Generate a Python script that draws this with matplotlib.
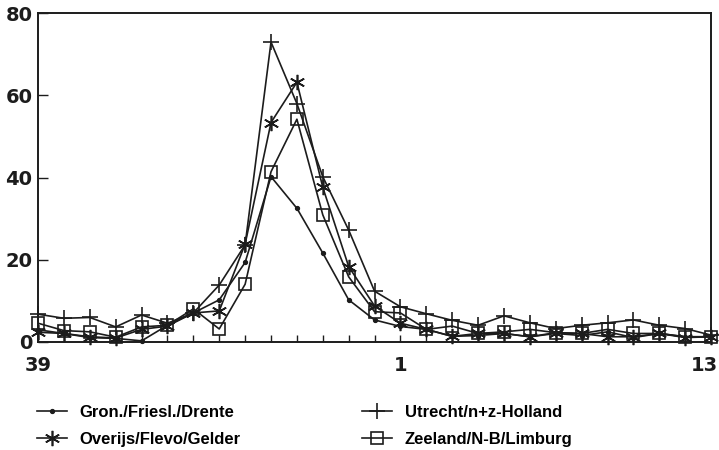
import matplotlib
matplotlib.use("Agg")
import matplotlib.pyplot as plt
import matplotlib.transforms as mtransforms
import numpy as np

weeks = [str(w) for w in list(range(39, 53)) + list(range(1, 14))]
shown_ticks = ["39", "1", "13"]

gron = [2.9, 2.0, 1.0, 0.8, 0.2, 4.0, 7.0, 10.2, 19.3, 40.2, 32.5, 21.6, 10.2, 5.3,
        3.7, 3.0, 1.3, 1.5, 2.0, 1.2, 2.0, 1.5, 2.4, 1.0, 2.0, 1.2, 1.2]
utrecht = [6.7, 5.7, 5.9, 3.6, 6.5, 4.5, 7.0, 13.8, 23.6, 73.0, 58.0, 40.2, 27.2, 12.3,
           8.5, 6.8, 5.2, 4.0, 6.3, 4.6, 3.2, 4.0, 4.6, 5.3, 4.0, 3.2, 1.6]
overijs = [2.3, 2.0, 1.2, 0.9, 3.0, 3.8, 7.0, 7.5, 23.8, 53.4, 63.2, 37.6, 18.3, 8.7,
           4.5, 3.0, 1.3, 2.0, 2.0, 1.2, 2.2, 2.0, 1.2, 1.2, 2.0, 1.0, 1.2]
zeeland = [4.5, 2.7, 2.4, 1.1, 3.6, 4.0, 8.0, 3.1, 14.0, 41.4, 54.2, 30.9, 15.8, 7.3,
           7.0, 3.0, 3.8, 2.0, 2.4, 3.0, 2.2, 2.0, 3.0, 2.0, 2.0, 1.2, 1.2]

labels = ["Gron./Friesl./Drente", "Utrecht/n+z-Holland",
          "Overijs/Flevo/Gelder", "Zeeland/N-B/Limburg"]

plt.rcParams['font.family'] = ['Liberation Sans', 'DejaVu Sans']
ink = "#1c1c1c"

fig = plt.figure(figsize=(7.19, 4.5), dpi=100)
ax = fig.add_axes([0.0529, 0.2407, 0.9361, 0.7297])

x = np.arange(len(weeks))
common = dict(color=ink, lw=1.2, clip_on=False)
l1, = ax.plot(x, gron, marker='o', ms=2.8, mfc=ink, mec=ink, label=labels[0], **common)
l2, = ax.plot(x, utrecht, marker='+', ms=12, mew=1.2, label=labels[1], **common)
l3, = ax.plot(x, overijs, marker=(6, 2, 0), ms=11, mew=1.2, label=labels[2], **common)
l4, = ax.plot(x, zeeland, marker='s', ms=8, mfc='none', mec=ink, mew=1.2, label=labels[3], **common)

ax.set_xlim(0, len(weeks) - 1)
ax.set_ylim(0, 80)
ax.set_xticks(x)
ax.set_xticklabels([w if w in shown_ticks else "" for w in weeks])
ax.set_yticks([0, 20, 40, 60, 80])
ax.tick_params(axis='x', direction='in', length=5, width=1, colors=ink, pad=10,
               labelsize=14)
ax.tick_params(axis='y', direction='in', length=7, width=1, colors=ink, pad=4,
               labelsize=14)
for lab in ax.get_xticklabels() + ax.get_yticklabels():
    lab.set_fontweight('bold')
    lab.set_family(['DejaVu Sans'])
# nudge the last x label ("13") inward so it stays inside the figure
last = ax.get_xticklabels()[-1]
last.set_transform(last.get_transform() +
                   mtransforms.ScaledTranslation(-7 / 100, 0, fig.dpi_scale_trans))
for s in ax.spines.values():
    s.set_color(ink)
    s.set_linewidth(1.4)

fig.legend(handles=[l1, l3, l2, l4], labels=[labels[0], labels[2], labels[1], labels[3]],
           ncol=2, loc='upper left', bbox_to_anchor=(0.0515, 0.101),
           borderpad=0, borderaxespad=0,
           frameon=False, handlelength=1.8, handletextpad=0.75,
           columnspacing=7.3, labelspacing=0.75,
           prop={'weight': 'bold', 'size': 12})

fig.savefig("out.png", dpi=100)
